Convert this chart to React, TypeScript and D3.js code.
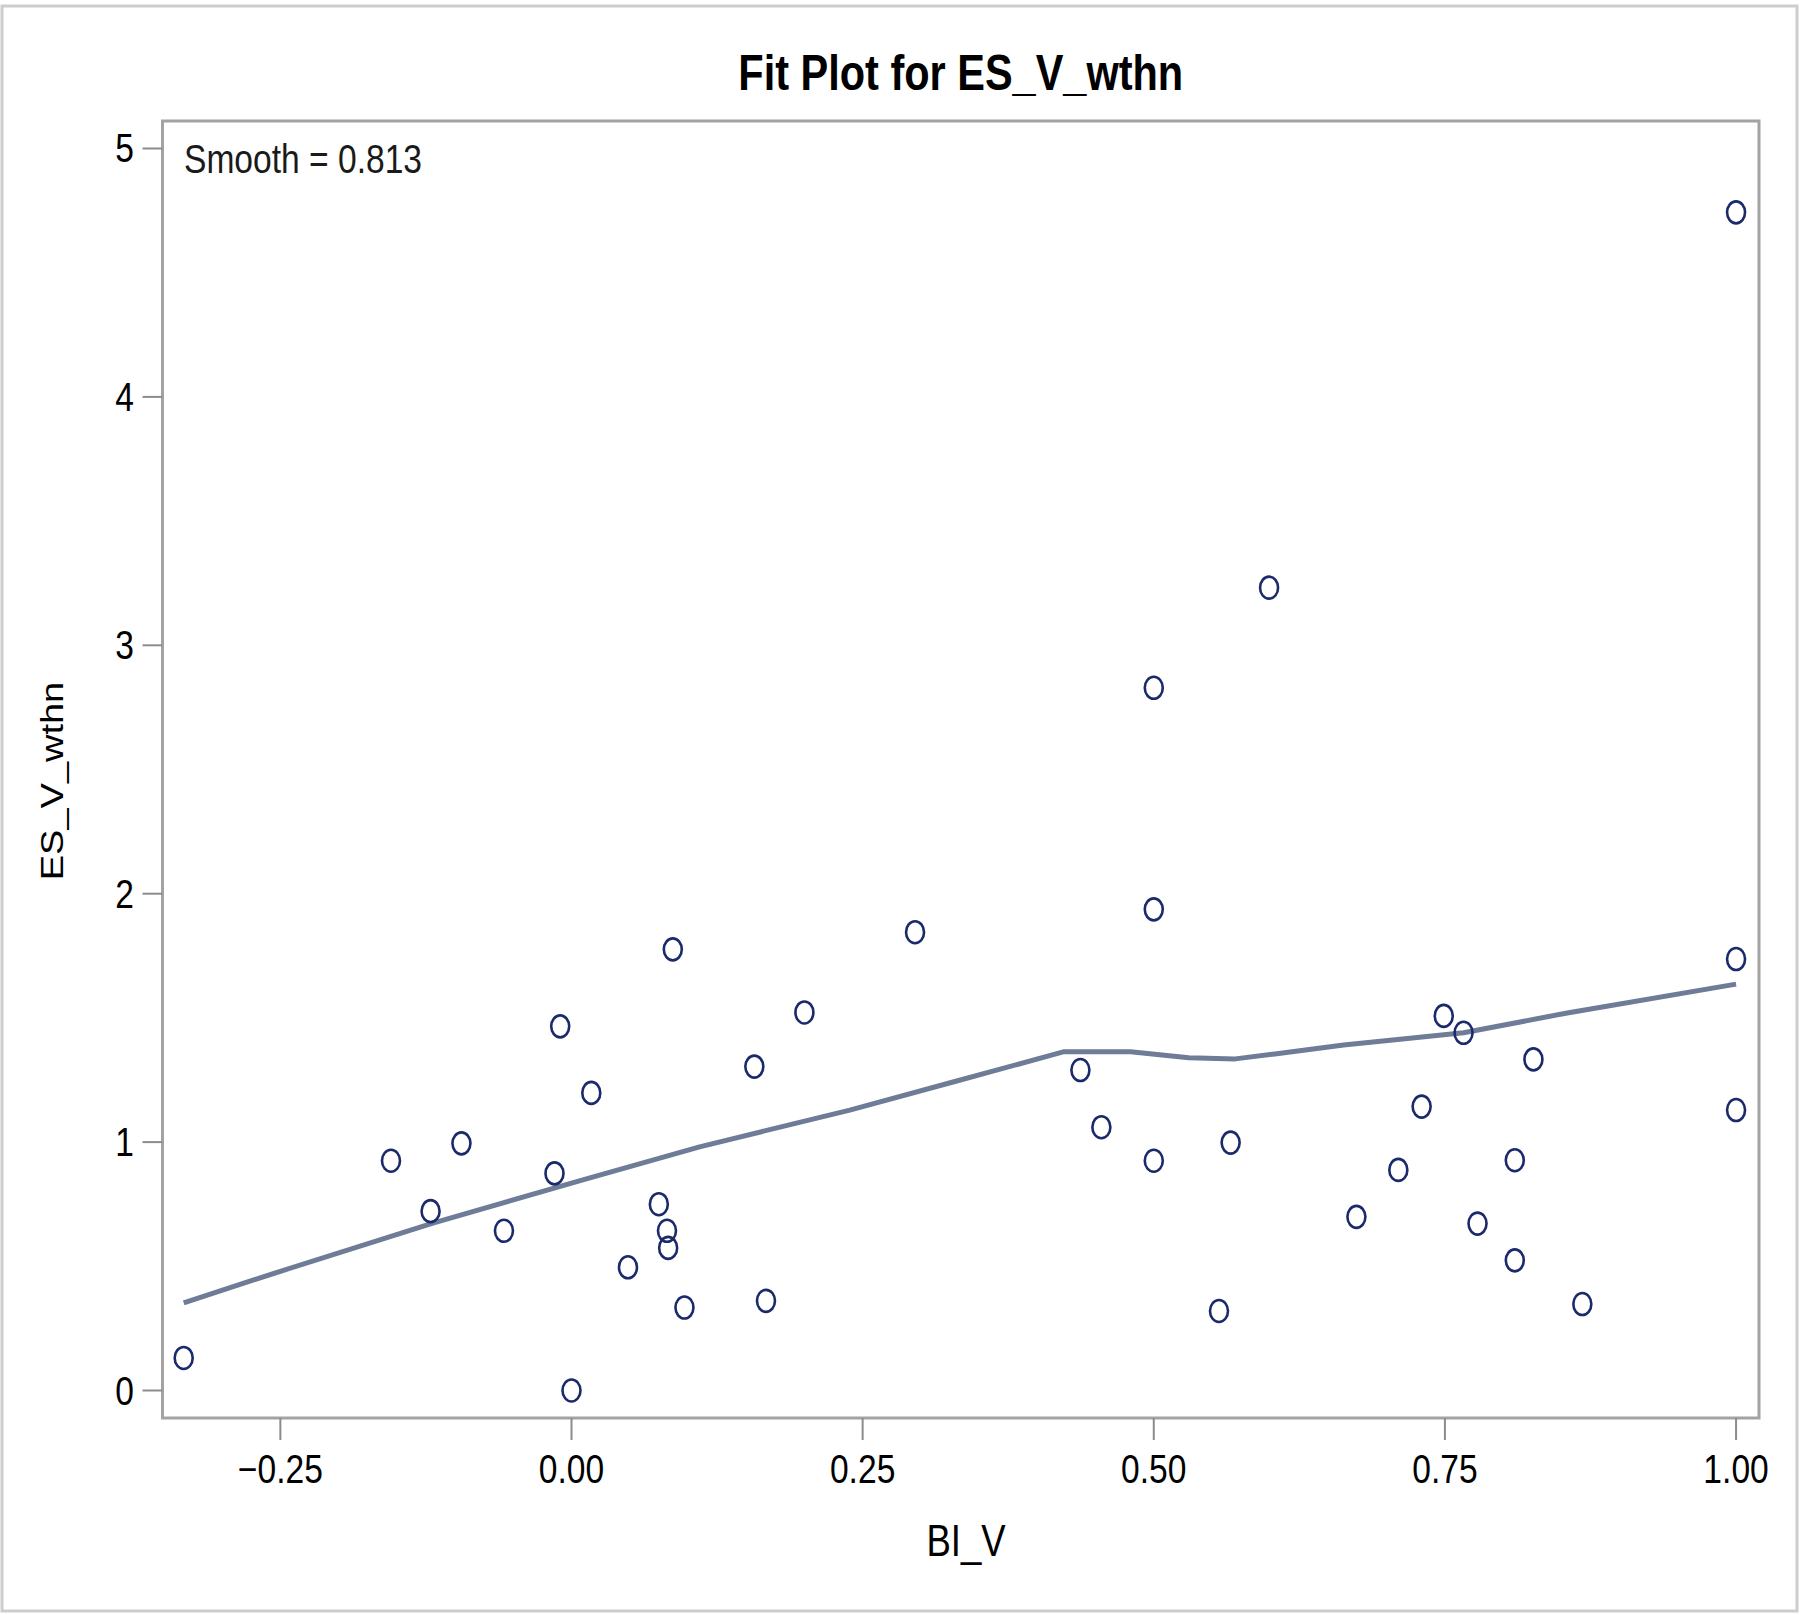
import React from "react";
import * as d3 from "d3";

const W = 1800;
const H = 1615;

const biV: number[] = [
  -0.333, -0.155, -0.121, -0.0945, -0.058, -0.0146, -0.0097, 0.0, 0.017, 0.0485,
  0.075, 0.082, 0.083, 0.087, 0.097, 0.157, 0.167, 0.2, 0.295, 0.437,
  0.455, 0.5, 0.5, 0.5, 0.556, 0.566, 0.599, 0.674, 0.71, 0.73,
  0.749, 0.766, 0.778, 0.81, 0.81, 0.826, 0.868, 1.0, 1.0, 1.0,
];
const esVwthn: number[] = [
  0.131, 0.925, 0.722, 0.995, 0.643, 0.874, 1.466, 0.0, 1.198, 0.496,
  0.75, 0.643, 0.574, 1.776, 0.334, 1.304, 0.361, 1.522, 1.845, 1.29,
  1.06, 2.829, 1.937, 0.925, 0.32, 0.998, 3.232, 0.699, 0.888, 1.143,
  1.508, 1.44, 0.672, 0.927, 0.524, 1.333, 0.348, 4.743, 1.737, 1.129,
];

const loessX: number[] = [
  -0.333, -0.25, -0.119, 0.009, 0.11, 0.239, 0.33, 0.423, 0.48, 0.53,
  0.57, 0.604, 0.663, 0.722, 0.766, 0.855, 1.0,
];
const loessY: number[] = [
  0.353, 0.48, 0.674, 0.847, 0.981, 1.129, 1.245, 1.364, 1.364, 1.34,
  1.335, 1.355, 1.391, 1.419, 1.44, 1.52, 1.636,
];

const xTicks: number[] = [-0.25, 0, 0.25, 0.5, 0.75, 1.0];
const yTicks: number[] = [0, 1, 2, 3, 4, 5];

const title = "Fit Plot for ES_V_wthn";
const xLabel = "BI_V";
const yLabel = "ES_V_wthn";
const smoothLabel = "Smooth = 0.813";

const FONT = "'Liberation Sans', Arial, Helvetica, sans-serif";
const SX = 0.84;

export default function App() {
  const left = 162.5, right = 1759, top = 121, bottom = 1418;
  const x = d3.scaleLinear().domain([-0.3512, 1.0197]).range([left, right]);
  const y = d3.scaleLinear().domain([-0.1107, 5.1107]).range([bottom, top]);

  const pts = loessX.map((v, i) => [v, loessY[i]] as [number, number]);
  const line = d3
    .line<[number, number]>()
    .x((d) => x(d[0]))
    .y((d) => y(d[1]))
    .curve(d3.curveLinear);

  const fmt = d3.format(".2f");

  return (
    <svg
      width={W}
      height={H}
      style={{ position: "absolute", left: 0, top: 0, background: "#fff" }}
    >
      <rect x={0} y={0} width={W} height={H} fill="#fff" />
      <rect x={2} y={6} width={1795} height={1605} fill="none" stroke="#cdcdcd" strokeWidth={3} />

      <g transform={`translate(${(left + right) / 2},90) scale(${0.83},1)`}>
        <text textAnchor="middle" fontFamily={FONT} fontWeight="bold" fontSize={50} fill="#000">
          {title}
        </text>
      </g>

      {/* frame */}
      <rect
        x={left}
        y={top}
        width={right - left}
        height={bottom - top}
        fill="none"
        stroke="#a3a3a3"
        strokeWidth={3}
      />

      {/* x axis */}
      {xTicks.map((t) => (
        <g key={"x" + t}>
          <line x1={x(t)} x2={x(t)} y1={bottom} y2={bottom + 22} stroke="#8c8c8c" strokeWidth={2} />
          <g transform={`translate(${x(t)},1483) scale(${SX},1)`}>
            <text textAnchor="middle" fontFamily={FONT} fontSize={40} fill="#000">
              {fmt(t)}
            </text>
          </g>
        </g>
      ))}
      {/* y axis */}
      {yTicks.map((t) => (
        <g key={"y" + t}>
          <line x1={left - 20} x2={left} y1={y(t)} y2={y(t)} stroke="#8c8c8c" strokeWidth={2} />
          <g transform={`translate(134,${y(t) + 14}) scale(${SX},1)`}>
            <text textAnchor="end" fontFamily={FONT} fontSize={40} fill="#000">
              {String(t)}
            </text>
          </g>
        </g>
      ))}

      <g transform={`translate(966,1556) scale(${0.83},1)`}>
        <text textAnchor="middle" fontFamily={FONT} fontSize={44} fill="#000">
          {xLabel}
        </text>
      </g>
      <g transform={`translate(63,781) scale(${SX},1) rotate(-90)`}>
        <text textAnchor="middle" fontFamily={FONT} fontSize={38} fill="#000">
          {yLabel}
        </text>
      </g>

      <text
        x={184}
        y={173}
        fontFamily={FONT}
        fontSize={41}
        textLength={238}
        lengthAdjust="spacingAndGlyphs"
        fill="#1a1a1a"
      >
        {smoothLabel}
      </text>

      {/* loess fit */}
      <path d={line(pts) || ""} fill="none" stroke="#6e7c98" strokeWidth={5} strokeLinejoin="round" />

      {/* points */}
      {biV.map((v, i) => (
        <ellipse
          key={"p" + i}
          cx={x(v)}
          cy={y(esVwthn[i])}
          rx={9}
          ry={11}
          fill="none"
          stroke="#1b2a6b"
          strokeWidth={2.6}
        />
      ))}
    </svg>
  );
}
